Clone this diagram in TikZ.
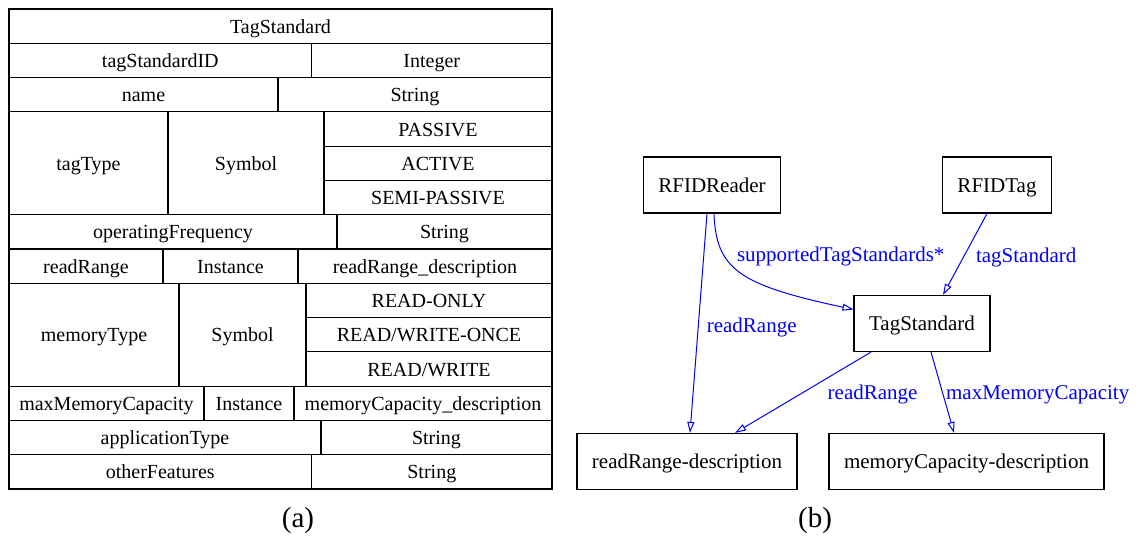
\documentclass[tikz,border=0pt]{standalone}
\usepackage{fontspec}
\setmainfont{Liberation Serif}
\usetikzlibrary{arrows.meta}

\begin{document}
\begin{tikzpicture}[x=1pt,y=-1pt,
	cell/.style={font=\fontsize{20}{24}\selectfont,text height=15pt,text depth=1pt,inner sep=0pt},
	box/.style={rectangle,draw,line width=1.2pt,font=\fontsize{21}{25}\selectfont,minimum height=56pt,inner xsep=15pt,text height=15pt,text depth=1pt},
	rel/.style={draw=blue,line width=1pt,-{Triangle[open,length=11pt,width=7pt]}},
	lbl/.style={text=blue,font=\fontsize{21}{25}\selectfont,inner sep=0pt,text height=15pt,text depth=1pt},
	subcap/.style={font=\fontsize{29}{34}\selectfont}]

	\useasboundingbox (0,0) rectangle (1144,546);

	\def\rowh{34.286}
	\def\tl{9}
	\def\tr{552}

	% (a) record table
	\draw[line width=1.2pt] (\tl,9) rectangle (\tr,489);
	\foreach \k in {1,2,3,6,7,8,11,12,13}
		\draw[line width=1.2pt] (\tl,{9+\k*\rowh}) -- (\tr,{9+\k*\rowh});
	\foreach \x/\k in {324/4,324/5,306/9,306/10}
		\draw[line width=1.2pt] (\x,{9+\k*\rowh}) -- (\tr,{9+\k*\rowh});
	\foreach \x/\a/\b in {311.6/1/2,278/2/3,168/3/6,324/3/6,337/6/7,163/7/8,298/7/8,179/8/11,306/8/11,204/11/12,294/11/12,321/12/13,311.6/13/14}
		\draw[line width=1.2pt] (\x,{9+\a*\rowh}) -- (\x,{9+\b*\rowh});

	\foreach \x/\r/\t [count=\i] in {280.5/0/TagStandard,160.3/1/tagStandardID,431.8/1/Integer,143.5/2/name,415/2/String,88.5/4/tagType,246/4/Symbol,438/3/PASSIVE,438/4/ACTIVE,438/5/SEMI-PASSIVE,173/6/operatingFrequency,444.5/6/String,86/7/readRange,230.5/7/Instance,425/7/readRange\_description,94/9/memoryType,242.5/9/Symbol,429/8/READ-ONLY,429/9/{READ/WRITE-ONCE},429/10/{READ/WRITE},106.5/11/maxMemoryCapacity,249/11/Instance,423/11/memoryCapacity\_description,165/12/applicationType,436.5/12/String,160.3/13/otherFeatures,431.8/13/String}
		\node[cell] (cell\i) at (\x,{9+(\r+0.5)*\rowh}) {\t};

	% (b) class graph
	\node[box] (reader) at (712,185) {RFIDReader};
	\node[box] (tag) at (997,185) {RFIDTag};
	\node[box] (std) at (922,323.5) {TagStandard};
	\node[box] (rr) at (687,461.5) {readRange-description};
	\node[box] (mc) at (966.5,461.5) {memoryCapacity-description};

	\draw[rel] ([xshift=-5pt]reader.south) -- node[lbl,pos=.51,anchor=west,xshift=8pt] (l1) {readRange} ([xshift=3pt]rr.north);
	\draw[rel] ([xshift=2pt]reader.south) .. controls (716,270) and (740,285) .. node[lbl,pos=.3,anchor=west,xshift=13pt] (l2) {supportedTagStandards*} ([yshift=14pt]std.west);
	\draw[rel] ([xshift=-10pt]tag.south) -- node[lbl,pos=.51,anchor=west,xshift=11pt] (l3) {tagStandard} ([xshift=21pt]std.north);
	\draw[rel] ([xshift=-51pt]std.south) -- node[lbl,pos=.506,anchor=west,xshift=25pt] (l4) {readRange} ([xshift=48pt]rr.north);
	\draw[rel] ([xshift=9pt]std.south) -- node[lbl,pos=.506,anchor=west,xshift=3pt] (l5) {maxMemoryCapacity} ([xshift=-12.5pt]mc.north);

	\node[subcap] (capa) at (298,521) {(a)};
	\node[subcap] (capb) at (815,521) {(b)};

\end{tikzpicture}
\end{document}
